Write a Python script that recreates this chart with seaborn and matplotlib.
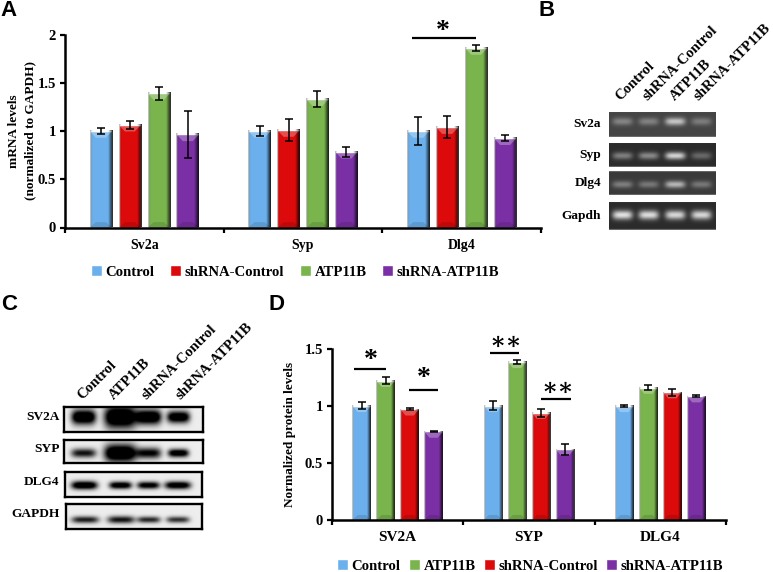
import numpy as np
import pandas as pd
import matplotlib
matplotlib.use("Agg")
import matplotlib.pyplot as plt
from matplotlib.patches import Polygon
import seaborn as sns

W, H = 774, 572
SERIF = ["Liberation Serif", "DejaVu Serif"]

# panel A, mRNA levels
genes_a = ["Sv2a", "Syp", "Dlg4"]
groups_a = ["Control", "shRNA-Control", "ATP11B", "shRNA-ATP11B"]
control_a = [1.00, 1.00, 1.00]
shctrl_a = [1.065, 1.01, 1.04]
atp_a = [1.39, 1.33, 1.86]
shatp_a = [0.965, 0.785, 0.925]
control_a_err = [0.035, 0.052, 0.143]
shctrl_a_err = [0.04, 0.117, 0.112]
atp_a_err = [0.065, 0.083, 0.035]
shatp_a_err = [0.245, 0.05, 0.03]

# panel D, protein levels
genes_d = ["SV2A", "SYP", "DLG4"]
groups_d = ["Control", "ATP11B", "shRNA-Control", "shRNA-ATP11B"]
control_d = [1.00, 1.00, 1.00]
atp_d = [1.22, 1.385, 1.16]
shctrl_d = [0.97, 0.94, 1.12]
shatp_d = [0.775, 0.62, 1.085]
control_d_err = [0.032, 0.038, 0.008]
atp_d_err = [0.028, 0.016, 0.026]
shctrl_d_err = [0.01, 0.035, 0.03]
shatp_d_err = [0.007, 0.048, 0.007]

colors = {"Control": "#6BB0EC", "shRNA-Control": "#DC0A0A",
          "ATP11B": "#79B44C", "shRNA-ATP11B": "#7A2FA5"}

# gels: band brightness per lane (panel B) and darkness per lane (panel C)
gel_rows_b = ["Sv2a", "Syp", "Dlg4", "Gapdh"]
gel_b = [[0.40, 0.38, 0.80, 0.35],
         [0.45, 0.50, 0.90, 0.33],
         [0.40, 0.36, 0.72, 0.36],
         [0.98, 0.95, 0.92, 0.92]]
blot_rows_c = ["SV2A", "SYP", "DLG4", "GAPDH"]
blot_c = [[1.5, 1.6, 1.5, 1.4],
          [1.0, 1.6, 1.1, 1.3],
          [1.4, 1.3, 1.2, 1.3],
          [0.95, 1.0, 0.9, 0.85]]
lanes_b = ["Control", "shRNA-Control", "ATP11B", "shRNA-ATP11B"]
lanes_c = ["Control", "ATP11B", "shRNA-Control", "shRNA-ATP11B"]


def px_axes(fig, left, top, right, bottom):  # axes from pixel box, y counted from top
    return fig.add_axes([left / W, 1 - bottom / H, (right - left) / W, (bottom - top) / H])


def shade_bars(ax, bar, bevel):  # fake 3D look of the original bars
    x0, w, h = bar.get_x(), bar.get_width(), bar.get_height()
    shade = np.zeros((1, 40, 4))
    t = np.linspace(0, 1, 40)
    shade[0, :, 3] = np.clip((0.1 - t) / 0.1, 0, 1) * 0.3 + np.clip((t - 0.8) / 0.2, 0, 1) * 0.85
    ax.imshow(shade, extent=[x0, x0 + w, 0, h], aspect="auto", zorder=2.2, interpolation="bilinear")
    inset = w * 0.28
    ax.add_patch(Polygon([[x0, h], [x0 + w, h], [x0 + w - inset, h - bevel], [x0 + inset, h - bevel]],
                         facecolor="white", alpha=0.28, edgecolor="none", zorder=2.3))
    ax.add_patch(Polygon([[x0, 0], [x0 + w, 0], [x0 + w - inset, bevel * 0.8], [x0 + inset, bevel * 0.8]],
                         facecolor="black", alpha=0.12, edgecolor="none", zorder=2.3))


def bar_panel(fig, box, genes, groups, series, errors, yticks, ylim, ylabel, pad, bevel, legend_xy, xsize, colspace):
    ax = px_axes(fig, *box)
    df = pd.DataFrame({
        "gene": genes * len(groups),
        "group": [g for g in groups for _ in genes],
        "value": [v for s in series for v in s],
    })
    sns.barplot(data=df, x="gene", y="value", hue="group", hue_order=groups, palette=colors,
                width=0.73, gap=0.22, saturation=1, errorbar=None, ax=ax)
    for cont, err in zip(ax.containers, errors):
        xs = [b.get_x() + b.get_width() / 2 for b in cont]
        ys = [b.get_height() for b in cont]
        ax.errorbar(xs, ys, yerr=err, fmt="none", ecolor="black", elinewidth=1.1,
                    capsize=2.6, capthick=1.1, zorder=4)
        for b in cont:
            shade_bars(ax, b, bevel)
    ax.set_xlim(-0.5, 2.5)
    ax.set_ylim(*ylim)
    ax.set_yticks(yticks, [f"{t:g}" for t in yticks])
    ax.set_xlabel("")
    ax.set_ylabel(ylabel, fontsize=9.5, fontweight="bold", labelpad=pad, linespacing=1.5)
    ax.set_xticks([-0.5, 0.5, 1.5, 2.5], minor=True)
    ax.tick_params(axis="x", which="minor", length=3.5, width=1.6, color="black", bottom=True)
    ax.tick_params(axis="x", which="major", length=0, pad=8, labelsize=xsize)
    ax.tick_params(axis="y", length=3.5, width=1.6, color="black", left=True, pad=3, labelsize=10.5)
    for lab in ax.get_xticklabels() + ax.get_yticklabels():
        lab.set_fontweight("bold")
    sns.despine(ax=ax)
    for side in ["left", "bottom"]:
        ax.spines[side].set_linewidth(1.8)
        ax.spines[side].set_color("black")
    sns.move_legend(ax, "center", bbox_to_anchor=(legend_xy[0] / W, 1 - legend_xy[1] / H),
                    bbox_transform=fig.transFigure, ncol=4, title=None, frameon=False,
                    handlelength=0.75, handleheight=0.75, handletextpad=0.25, columnspacing=colspace,
                    prop={"size": 10.6, "weight": "bold", "family": SERIF})
    return ax


def sig_mark(ax, x0, x1, y, star, star_x, size=20, dy=0):
    ax.plot([x0, x1], [y, y], color="black", lw=1.6, solid_capstyle="butt", clip_on=False, zorder=5)
    ax.annotate(star, (star_x, y), xytext=(0, dy), textcoords="offset points", ha="center", va="center",
                fontsize=size, fontweight="bold", annotation_clip=False)


def gel_image(centers, widths, heights, strengths, bg, fg, mid=0.45, edge=0.0):
    rows, cols = 60, 200
    xx, yy = np.meshgrid(np.linspace(0, 1, cols), np.linspace(0, 1, rows))
    img = np.full((rows, cols), bg, dtype=float)
    for c, w, h, s in zip(centers, widths, heights, strengths):
        band = np.exp(-((xx - c) / w) ** 4) * np.exp(-((yy - mid) / h) ** 2)
        img += (fg - bg) * s * band
    if edge:
        img[:2, :] = edge
        img[-2:, :] = edge
    return np.clip(img, 0, 1)


def lane_labels(fig, names, xs, y):
    for name, x in zip(names, xs):
        fig.text(x / W, 1 - y / H, name, rotation=45, rotation_mode="anchor", ha="left", va="bottom",
                 fontsize=10.6, fontweight="bold")


def main():
    sns.set_theme(style="white")
    plt.rcParams["font.family"] = SERIF
    plt.rcParams["text.color"] = "black"
    plt.rcParams["axes.labelcolor"] = "black"
    plt.rcParams["xtick.color"] = "black"
    plt.rcParams["ytick.color"] = "black"
    fig = plt.figure(figsize=(W / 100, H / 100), dpi=100, facecolor="white")

    # panel A
    ax_a = bar_panel(fig, (65, 34.5, 541, 227.5), genes_a, groups_a,
                     [control_a, shctrl_a, atp_a, shatp_a],
                     [control_a_err, shctrl_a_err, atp_a_err, shatp_a_err],
                     [0, 0.5, 1, 1.5, 2], (0, 2), "mRNA levels\n(normalized to GAPDH)", 1, 0.07, (295, 272), 10, 1.05)
    sig_mark(ax_a, 1.689, 2.09, 1.96, "*", 1.88, dy=5)

    # panel D
    ax_d = bar_panel(fig, (332, 348.7, 726, 520), genes_d, groups_d,
                     [control_d, atp_d, shctrl_d, shatp_d],
                     [control_d_err, atp_d_err, shctrl_d_err, shatp_d_err],
                     [0, 0.5, 1, 1.5], (0, 1.5), "Normalized protein levels", 6, 0.055, (530, 566), 11, 0.55)
    sig_mark(ax_d, -0.332, -0.086, 1.322, "*", -0.205, dy=6)
    sig_mark(ax_d, 0.087, 0.308, 1.138, "*", 0.196, dy=8)
    sig_mark(ax_d, 0.70, 0.925, 1.462, "∗∗", 0.825, size=17, dy=7)
    sig_mark(ax_d, 1.094, 1.318, 1.059, "∗∗", 1.22, size=17, dy=7)

    # panel B, gel pictures
    centers_b = [0.125, 0.37, 0.62, 0.865]
    boxes_b = [(111.7, 137), (142.7, 167), (171, 195), (202, 230.5)]
    bgs_b = [0.27, 0.17, 0.23, 0.17]
    mids_b = [0.4, 0.55, 0.56, 0.48]
    for row, (top, bottom), vals, bg, mid in zip(gel_rows_b, boxes_b, gel_b, bgs_b, mids_b):
        ax = px_axes(fig, 608.7, top, 715, bottom)
        h = 0.15 if row != "Gapdh" else 0.16
        img = gel_image(centers_b, [0.095] * 4, [h] * 4, vals, bg, 0.9, mid=mid, edge=0.45)
        ax.imshow(img, cmap="gray", vmin=0, vmax=1, aspect="auto", interpolation="bilinear")
        ax.axis("off")
        fig.text(601 / W, 1 - (top + bottom) / 2 / H, row, ha="right", va="center",
                 fontsize=9.6, fontweight="bold")
    lane_labels(fig, lanes_b, [622, 650, 677, 701], 103)

    # panel C, western blots
    boxes_c = [(64, 406.7, 202.7, 431.7), (64, 440, 202.7, 463),
               (65, 471.7, 201.7, 497), (66, 504, 201.7, 529)]
    centers_c = [0.14, 0.405, 0.61, 0.825]
    widths_c = [[0.088, 0.115, 0.092, 0.082], [0.09, 0.115, 0.09, 0.075],
                [0.095, 0.082, 0.082, 0.095], [0.1, 0.1, 0.085, 0.085]]
    heights_c = [[0.3, 0.45, 0.3, 0.24], [0.2, 0.38, 0.24, 0.18], [0.16, 0.14, 0.14, 0.15], [0.14, 0.15, 0.13, 0.13]]
    mids_c = [0.4, 0.57, 0.55, 0.63]
    for row, box, vals, ws, hs, mid in zip(blot_rows_c, boxes_c, blot_c, widths_c, heights_c, mids_c):
        ax = px_axes(fig, *box)
        img = gel_image(centers_c, ws, hs, vals, 0.93, 0.05, mid=mid)
        ax.imshow(img, cmap="gray", vmin=0, vmax=1, aspect="auto", interpolation="bilinear")
        ax.set_xticks([])
        ax.set_yticks([])
        for sp in ax.spines.values():
            sp.set_visible(True)
            sp.set_linewidth(1.7)
            sp.set_color("black")
        fig.text(59.5 / W, 1 - (box[1] + box[3]) / 2 / H + 0.004, row, ha="right", va="center",
                 fontsize=9.6, fontweight="bold")
    lane_labels(fig, lanes_c, [84, 116, 149, 183], 402)

    # panel letters
    for letter, x, y in [("A", 0, 10), ("B", 538, 10), ("C", 1, 304), ("D", 269, 304)]:
        fig.text(x / W, 1 - y / H, letter, ha="left", va="center", fontsize=16, fontweight="bold",
                 family=["Liberation Sans", "DejaVu Sans"])

    fig.savefig("out.png", dpi=100, facecolor="white")


if __name__ == "__main__":
    main()
